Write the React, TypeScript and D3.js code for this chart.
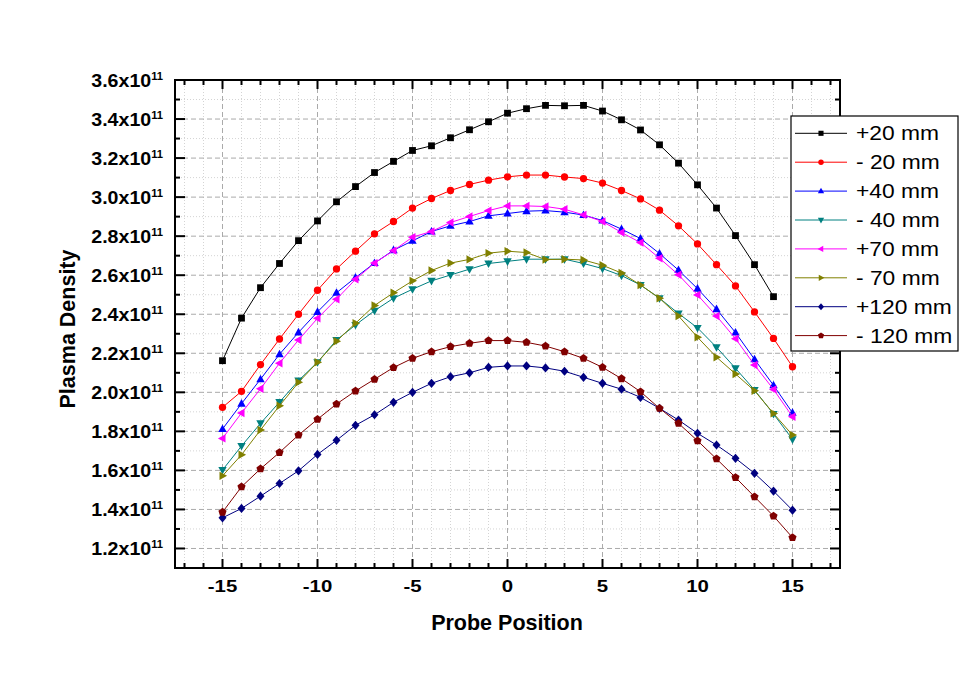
import React from "react";
import * as d3 from "d3";

const positions = d3.range(-15, 16);
const seriesNames = ["+20 mm", "- 20 mm", "+40 mm", "- 40 mm", "+70 mm", "- 70 mm", "+120 mm", "- 120 mm"];
const seriesColors = ["#000000", "#FF0000", "#0000FF", "#008080", "#FF00FF", "#808000", "#000080", "#800000"];
const seriesMarkers = ["square", "circle", "triUp", "triDown", "triLeft", "triRight", "diamond", "pentagon"];

const plus20 = [2.162, 2.38, 2.536, 2.66, 2.777, 2.878, 2.976, 3.054, 3.126, 3.183, 3.239, 3.263, 3.304, 3.345, 3.386, 3.43, 3.453, 3.47, 3.468, 3.47, 3.441, 3.396, 3.344, 3.268, 3.174, 3.063, 2.944, 2.803, 2.654, 2.49];
const minus20 = [1.923, 2.005, 2.142, 2.273, 2.4, 2.523, 2.632, 2.723, 2.812, 2.875, 2.944, 2.993, 3.034, 3.065, 3.087, 3.104, 3.113, 3.113, 3.103, 3.095, 3.072, 3.034, 2.991, 2.933, 2.853, 2.76, 2.654, 2.545, 2.412, 2.276, 2.131];
const plus40 = [1.812, 1.942, 2.067, 2.195, 2.307, 2.412, 2.51, 2.588, 2.662, 2.728, 2.776, 2.824, 2.853, 2.875, 2.904, 2.916, 2.928, 2.931, 2.923, 2.908, 2.88, 2.836, 2.788, 2.711, 2.626, 2.531, 2.426, 2.306, 2.169, 2.036, 1.895];
const minus40 = [1.602, 1.725, 1.841, 1.95, 2.06, 2.154, 2.268, 2.345, 2.418, 2.482, 2.528, 2.571, 2.601, 2.631, 2.66, 2.671, 2.682, 2.682, 2.682, 2.66, 2.634, 2.598, 2.55, 2.482, 2.404, 2.33, 2.231, 2.123, 2.012, 1.889, 1.759];
const plus70 = [1.764, 1.894, 2.018, 2.149, 2.268, 2.379, 2.477, 2.579, 2.662, 2.726, 2.795, 2.824, 2.87, 2.901, 2.931, 2.955, 2.955, 2.952, 2.938, 2.909, 2.875, 2.819, 2.767, 2.687, 2.602, 2.499, 2.391, 2.275, 2.14, 2.015, 1.875];
const minus70 = [1.572, 1.68, 1.807, 1.931, 2.051, 2.154, 2.262, 2.354, 2.445, 2.51, 2.571, 2.624, 2.662, 2.681, 2.713, 2.723, 2.716, 2.68, 2.682, 2.678, 2.651, 2.611, 2.55, 2.482, 2.391, 2.282, 2.18, 2.094, 2.008, 1.892, 1.781];
const plus120 = [1.357, 1.405, 1.468, 1.533, 1.598, 1.682, 1.754, 1.831, 1.885, 1.949, 2.0, 2.046, 2.08, 2.1, 2.128, 2.135, 2.135, 2.125, 2.108, 2.077, 2.046, 2.016, 1.974, 1.918, 1.858, 1.79, 1.73, 1.662, 1.585, 1.494, 1.396];
const minus120 = [1.386, 1.516, 1.608, 1.692, 1.781, 1.862, 1.94, 2.007, 2.067, 2.127, 2.174, 2.208, 2.234, 2.251, 2.265, 2.265, 2.256, 2.237, 2.208, 2.174, 2.128, 2.07, 2.003, 1.918, 1.841, 1.752, 1.659, 1.564, 1.465, 1.366, 1.256];

const seriesValues = [plus20, minus20, plus40, minus40, plus70, minus70, plus120, minus120];

const xMajorTicks = [-15, -10, -5, 0, 5, 10, 15];
const yMajorTicks = [1.2, 1.4, 1.6, 1.8, 2.0, 2.2, 2.4, 2.6, 2.8, 3.0, 3.2, 3.4, 3.6];
const yTickLabels = ["1.2x10", "1.4x10", "1.6x10", "1.8x10", "2.0x10", "2.2x10", "2.4x10", "2.6x10", "2.8x10", "3.0x10", "3.2x10", "3.4x10", "3.6x10"];
const yExponent = "11";
const xTitle = "Probe Position";
const yTitle = "Plasma Density";

const W = 974;
const H = 681;
const L = 175, R = 840, T = 80, B = 568;

const x = d3.scaleLinear().domain([-17.5, 17.5]).range([L, R]);
const y = d3.scaleLinear().domain([1.1, 3.6]).range([B, T]);

const xMinor = d3.range(-17, 18).filter((v) => v % 5 !== 0);
const yMinor = d3.range(11, 36).map((v) => v / 10).filter((v) => Math.round(v * 10) % 2 === 1);

function markerPath(kind: string, s: number): string {
  const k = s;
  switch (kind) {
    case "square":
      return `M${-3.4 * k},${-3.4 * k}h${6.8 * k}v${6.8 * k}h${-6.8 * k}Z`;
    case "circle":
      return d3.symbol().type(d3.symbolCircle).size(42 * k * k)() as string;
    case "triUp":
      return `M0,${-4.6 * k}L${4.2 * k},${3.0 * k}L${-4.2 * k},${3.0 * k}Z`;
    case "triDown":
      return `M0,${4.6 * k}L${4.2 * k},${-3.0 * k}L${-4.2 * k},${-3.0 * k}Z`;
    case "triLeft":
      return `M${-4.6 * k},0L${3.0 * k},${-4.2 * k}L${3.0 * k},${4.2 * k}Z`;
    case "triRight":
      return `M${4.6 * k},0L${-3.0 * k},${-4.2 * k}L${-3.0 * k},${4.2 * k}Z`;
    case "diamond":
      return `M0,${-4.6 * k}L${4.0 * k},0L0,${4.6 * k}L${-4.0 * k},0Z`;
    case "pentagon": {
      const pts = d3.range(5).map((i) => {
        const a = -Math.PI / 2 + (i * 2 * Math.PI) / 5;
        return [4.3 * k * Math.cos(a), 4.3 * k * Math.sin(a)];
      });
      return "M" + pts.map((p) => p.join(",")).join("L") + "Z";
    }
  }
  return "";
}

export default function App() {
  const line = d3
    .line<[number, number]>()
    .x((d) => x(d[0]))
    .y((d) => y(d[1]));

  const legendX = 791, legendY = 116, legendW = 167, legendH = 235;
  const legendRow0 = 133.3, legendStep = 28.9;

  return (
    <svg
      width={W}
      height={H}
      style={{ position: "absolute", left: 0, top: 0, background: "#fff" }}
      fontFamily="'Liberation Sans', Arial, sans-serif"
    >
      <rect x={0} y={0} width={W} height={H} fill="#fff" />
      {/* minor grid */}
      {xMinor.map((v) => (
        <line key={"gxm" + v} x1={x(v)} x2={x(v)} y1={T} y2={B} stroke="#d4d4d4" strokeWidth={1} strokeDasharray="1,2" />
      ))}
      {yMinor.map((v) => (
        <line key={"gym" + v} x1={L} x2={R} y1={y(v)} y2={y(v)} stroke="#d4d4d4" strokeWidth={1} strokeDasharray="1,2" />
      ))}
      {/* major grid */}
      {xMajorTicks.map((v) => (
        <line key={"gx" + v} x1={x(v)} x2={x(v)} y1={T} y2={B} stroke="#aaaaaa" strokeWidth={1} strokeDasharray="5,3" />
      ))}
      {yMajorTicks.map((v) => (
        <line key={"gy" + v} x1={L} x2={R} y1={y(v)} y2={y(v)} stroke="#aaaaaa" strokeWidth={1} strokeDasharray="5,3" />
      ))}

      {/* series */}
      {seriesValues.map((vals, si) => {
        const pts: [number, number][] = vals.map((v, i) => [positions[i], v]);
        return (
          <g key={"s" + si}>
            <path d={line(pts) as string} fill="none" stroke={seriesColors[si]} strokeWidth={1} />
            {pts.map((p, i) => (
              <path
                key={i}
                d={markerPath(seriesMarkers[si], 1)}
                transform={`translate(${x(p[0])},${y(p[1])})`}
                fill={seriesColors[si]}
              />
            ))}
          </g>
        );
      })}

      {/* frame */}
      <rect x={L} y={T} width={R - L} height={B - T} fill="none" stroke="#000" strokeWidth={2} />
      {/* ticks bottom/top */}
      {xMajorTicks.map((v) => (
        <g key={"tx" + v}>
          <line x1={x(v)} x2={x(v)} y1={B} y2={B - 9} stroke="#000" strokeWidth={2} />
          <line x1={x(v)} x2={x(v)} y1={T} y2={T + 9} stroke="#000" strokeWidth={2} />
        </g>
      ))}
      {xMinor.map((v) => (
        <g key={"txm" + v}>
          <line x1={x(v)} x2={x(v)} y1={B} y2={B - 5} stroke="#000" strokeWidth={2} />
          <line x1={x(v)} x2={x(v)} y1={T} y2={T + 5} stroke="#000" strokeWidth={2} />
        </g>
      ))}
      {yMajorTicks.map((v) => (
        <g key={"ty" + v}>
          <line x1={L} x2={L + 10} y1={y(v)} y2={y(v)} stroke="#000" strokeWidth={2} />
          <line x1={R} x2={R - 10} y1={y(v)} y2={y(v)} stroke="#000" strokeWidth={2} />
        </g>
      ))}
      {yMinor.map((v) => (
        <g key={"tym" + v}>
          <line x1={L} x2={L + 5} y1={y(v)} y2={y(v)} stroke="#000" strokeWidth={2} />
          <line x1={R} x2={R - 5} y1={y(v)} y2={y(v)} stroke="#000" strokeWidth={2} />
        </g>
      ))}

      {/* x tick labels */}
      {xMajorTicks.map((v) => (
        <text
          key={"lx" + v}
          transform={`translate(${x(v)},${592}) scale(1.2,1)`}
          textAnchor="middle"
          fontSize={17}
          fontWeight="bold"
          fill="#000"
        >
          {v < 0 ? "-" + Math.abs(v) : String(v)}
        </text>
      ))}
      {/* y tick labels */}
      {yMajorTicks.map((v, i) => (
        <text
          key={"ly" + v}
          transform={`translate(${163},${y(v) + 6.5}) scale(1.12,1)`}
          textAnchor="end"
          fontSize={17.5}
          fontWeight="bold"
          fill="#000"
        >
          {yTickLabels[i]}
          <tspan dy={-6.5} fontSize={10}>
            {yExponent}
          </tspan>
        </text>
      ))}

      {/* axis titles */}
      <text x={507} y={630} textAnchor="middle" fontSize={21.5} fontWeight="bold" fill="#000">
        {xTitle}
      </text>
      <text
        transform={`translate(${75},${329}) rotate(-90)`}
        textAnchor="middle"
        fontSize={21.5}
        fontWeight="bold"
        fill="#000"
      >
        {yTitle}
      </text>

      {/* legend */}
      <rect x={legendX} y={legendY} width={legendW} height={legendH} fill="#fff" stroke="#000" strokeWidth={1.2} />
      {seriesNames.map((name, i) => {
        const ly = legendRow0 + i * legendStep;
        return (
          <g key={"lg" + i}>
            <line x1={795} x2={847} y1={ly} y2={ly} stroke={seriesColors[i]} strokeWidth={1} />
            <path d={markerPath(seriesMarkers[i], 0.75)} transform={`translate(${821},${ly})`} fill={seriesColors[i]} />
            <text transform={`translate(${856},${ly + 7}) scale(1.17,1)`} fontSize={19.5} fill="#000">
              {name}
            </text>
          </g>
        );
      })}
    </svg>
  );
}
